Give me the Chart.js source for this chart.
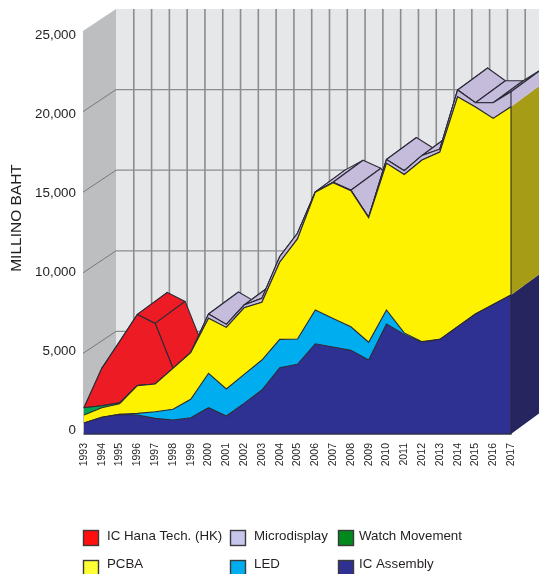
<!DOCTYPE html>
<html><head><meta charset="utf-8">
<style>html,body{margin:0;padding:0;background:#fff}canvas{display:block}</style>
<script src="https://cdn.jsdelivr.net/npm/chart.js@4"></script>
</head><body><canvas id="c" width="539" height="574"></canvas>
<script>
const years=[1993,1994,1995,1996,1997,1998,1999,2000,2001,2002,2003,2004,2005,2006,2007,2008,2009,2010,2011,2012,2013,2014,2015,2016,2017];
const yTicks=[0,5000,10000,15000,20000,25000];
const icAssembly=[680,1035,1220,1180,970,870,1010,1630,1115,1900,2730,4110,4320,5600,5395,5190,4590,6820,6180,5690,5870,6650,7440,8040,8620];
const led=[0,0,0,100,415,660,1140,2135,1675,1800,1860,1760,1570,2090,1775,1460,1100,870,90,40,0,0,0,0,0];
const pcba=[500,595,660,1720,1715,2545,2890,3410,3825,4130,3580,4790,6210,7300,8415,8440,7725,9100,9830,11270,11620,14270,12840,11540,11680];
const watchMovement=[450,125,50,0,0,0,0,0,0,0,0,0,0,0,0,0,0,0,0,0,0,0,0,0,0];
const microdisplay=[0,0,0,0,0,0,0,265,185,170,245,340,350,30,30,30,30,240,230,280,180,420,270,970,930];
const icHana=[0,2315,3800,4420,3760,0,0,0,0,0,0,0,0,0,0,0,0,0,0,0,0,0,0,0,0];
const seriesNames=['IC Assembly','LED','PCBA','Watch Movement','Microdisplay','IC Hana Tech. (HK)'];
const seriesValues=[icAssembly,led,pcba,watchMovement,microdisplay,icHana];
const seriesColors=['#2e3192','#00aeef','#fff200','#00a651','#c5bcdc','#ed1c24'];
const sideColors=['#272560','#0a7fa8','#a79c16','#00703a','#c5bcdc','#a8141a'];
const legendRows=[['IC Hana Tech. (HK)','Microdisplay','Watch Movement'],['PCBA','LED','IC Assembly']];
const legendColors={'IC Hana Tech. (HK)':'#ff1010','Microdisplay':'#c6c6ec','Watch Movement':'#008a1e','PCBA':'#ffff33','LED':'#00aeef','IC Assembly':'#2e3192'};
const yTitle='MILLINO BAHT';

const INK='#2b2a38',GRID='#8b8d8f',FONT='"Liberation Sans", Arial, sans-serif';
const wallD={x:32,y:-22},surfD={x:30,y:-22};

function poly(ctx,pts,fill,stroke,lw){
  ctx.beginPath();pts.forEach((p,i)=>i?ctx.lineTo(p[0],p[1]):ctx.moveTo(p[0],p[1]));ctx.closePath();
  if(fill){ctx.fillStyle=fill;ctx.fill();}
  if(stroke){ctx.strokeStyle=stroke;ctx.lineWidth=lw||1;ctx.lineJoin='round';ctx.stroke();}
}
function line(ctx,x1,y1,x2,y2,c,w){ctx.beginPath();ctx.moveTo(x1,y1);ctx.lineTo(x2,y2);ctx.strokeStyle=c;ctx.lineWidth=w;ctx.stroke();}

const scene3d={
  id:'scene3d',
  beforeDraw(chart){
    const {ctx,scales:{x,y},width}=chart;
    const ca=chart.chartArea,top=y.getPixelForValue(25000),bot=y.getPixelForValue(0);
    ctx.save();
    ctx.fillStyle='#fff';ctx.fillRect(0,0,width,chart.height);
    poly(ctx,[[ca.left+wallD.x,top+wallD.y],[width,top+wallD.y],[width,bot+wallD.y],[ca.left+wallD.x,bot+wallD.y]],'#e6e7e8');
    poly(ctx,[[ca.left-1,top],[ca.left+wallD.x,top+wallD.y],[ca.left+wallD.x,bot+wallD.y],[ca.left-1,bot]],'#bcbec0');
    years.forEach((yr,i)=>{ if(i===0)return;
      const px=x.getPixelForValue(i)+wallD.x;
      line(ctx,px,top+wallD.y,px,bot+wallD.y,GRID,1.6);
    });
    yTicks.forEach(v=>{ if(v===25000||v===0)return;
      const py=y.getPixelForValue(v);
      line(ctx,ca.left+wallD.x,py+wallD.y,width,py+wallD.y,GRID,1.3);
      line(ctx,ca.left-1,py,ca.left+wallD.x,py+wallD.y,'#77797b',1);
    });
    ctx.restore();
  },
  beforeDatasetsDraw(chart){
    const {ctx,scales:{x,y}}=chart;
    const tot=(i,n)=>{let s=0;for(let k=0;k<n;k++)s+=seriesValues[k][i];return s;};
    const L=seriesValues.length;
    ctx.save();
    for(let i=0;i<years.length-1;i++){
      let layer=0;
      for(let k=0;k<L;k++) if(seriesValues[k][i]>0||seriesValues[k][i+1]>0) layer=k;
      const x0=x.getPixelForValue(i),x1=x.getPixelForValue(i+1);
      const y0=y.getPixelForValue(tot(i,L)),y1=y.getPixelForValue(tot(i+1,L));
      poly(ctx,[[x0,y0],[x1,y1],[x1+surfD.x,y1+surfD.y],[x0+surfD.x,y0+surfD.y]],seriesColors[layer],INK,1.1);
    }
    const last=years.length-1,xr=x.getPixelForValue(last);
    for(let k=0;k<L;k++){
      if(seriesValues[k][last]<=0)continue;
      const a=y.getPixelForValue(tot(last,k)),b=y.getPixelForValue(tot(last,k+1));
      poly(ctx,[[xr,a],[xr,b],[xr+surfD.x,b+surfD.y],[xr+surfD.x,a+surfD.y]],sideColors[k]);
    }
    const t=y.getPixelForValue(tot(last,L));
    line(ctx,xr,t,xr+surfD.x,t+surfD.y,INK,1.1);
    ctx.restore();
  },
  afterDatasetsDraw(chart){
    const {ctx,scales:{x,y}}=chart;
    const last=years.length-1,xr=x.getPixelForValue(last),b=y.getPixelForValue(0);
    let s=0;seriesValues.forEach(a=>s+=a[last]);
    ctx.save();
    line(ctx,xr,y.getPixelForValue(s),xr,b,INK,1.1);
    line(ctx,x.getPixelForValue(0),b,xr,b,INK,1);
    ctx.restore();
  },
  afterDraw(chart){
    const {ctx}=chart;
    ctx.save();
    ctx.fillStyle='#231f20';
    ctx.font='15.5px '+FONT;ctx.textAlign='center';ctx.textBaseline='middle';
    ctx.translate(16.5,218);ctx.rotate(-Math.PI/2);ctx.fillText(yTitle,0,0);
    ctx.restore();
    ctx.save();
    const cols=[[83.5,107],[230.5,254],[338.5,359]],rows=[[530.5,536.5],[560.5,564.5]];
    ctx.font='13.3px '+FONT;ctx.textAlign='left';ctx.textBaseline='middle';
    legendRows.forEach((r,ri)=>r.forEach((name,ci)=>{
      ctx.fillStyle=legendColors[name];ctx.strokeStyle='#3a3a3a';ctx.lineWidth=1.4;
      ctx.fillRect(cols[ci][0],rows[ri][0],15,15);ctx.strokeRect(cols[ci][0],rows[ri][0],15,15);
      ctx.fillStyle='#231f20';ctx.fillText(name,cols[ci][1],rows[ri][1]);
    }));
    ctx.restore();
  }
};

new Chart(document.getElementById('c'),{
  type:'line',
  data:{labels:years.map(String),datasets:seriesNames.map((n,k)=>({
    label:n,data:seriesValues[k],yAxisID:'y',
    backgroundColor:seriesColors[k],borderColor:INK,borderWidth:1.1,
    fill:k===0?'origin':'-1',tension:0,pointRadius:0,clip:false
  }))},
  options:{
    responsive:false,animation:false,devicePixelRatio:1,
    layout:{padding:{left:34,right:28,top:31,bottom:100}},
    plugins:{legend:{display:false},title:{display:false},tooltip:{enabled:false}},
    scales:{
      x:{type:'category',offset:false,grid:{display:false,drawTicks:false},
        border:{display:true,color:'#a2a4a6',width:2},
        afterFit(s){s.height=40;},
        ticks:{autoSkip:false,minRotation:90,maxRotation:90,padding:9,color:'#231f20',font:{family:FONT,size:10.5}}},
      y:{display:false,stacked:true,min:0,max:25000},
      yL:{type:'linear',position:'left',min:-253,max:25253,
        grid:{display:false,drawTicks:false},border:{display:false},
        afterFit(s){s.width=50;},
        afterBuildTicks(s){s.ticks=yTicks.map(v=>({value:v}));},
        ticks:{padding:8,color:'#231f20',font:{family:FONT,size:13.4},
          callback:v=>Number(v).toLocaleString('en-US')}}
    }
  },
  plugins:[scene3d]
});
</script></body></html>
